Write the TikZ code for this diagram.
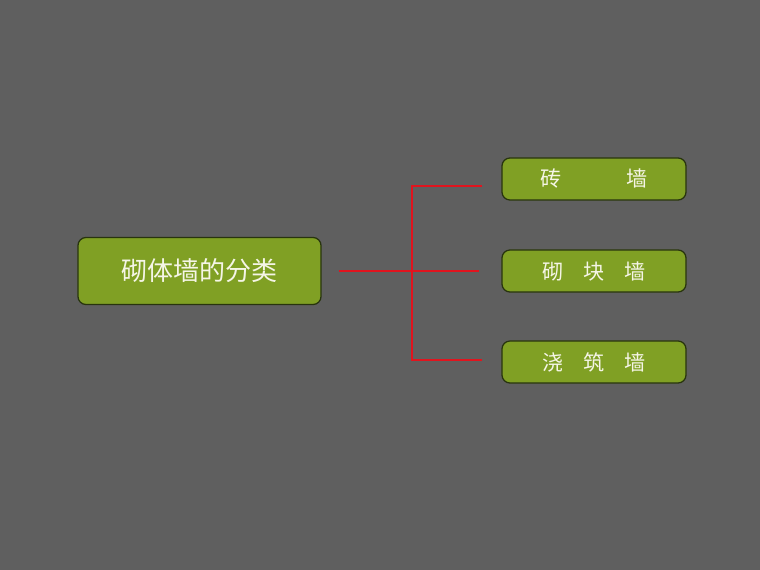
\documentclass[tikz,border=0pt]{standalone}
\usepackage{fontspec}
\newfontfamily\cjk{Noto Sans CJK SC}
\definecolor{bgGray}{RGB}{95,95,95}
\definecolor{leafGreen}{RGB}{128,160,36}
\definecolor{edgeGreen}{RGB}{40,52,14}
\definecolor{linkRed}{RGB}{225,20,30}
\definecolor{textCream}{RGB}{245,245,230}
\tikzset{
	box/.style={draw=edgeGreen, line width=0.9pt, fill=leafGreen, rounded corners=0.2cm,
		text=textCream, font=\cjk, inner sep=0pt},
	mainbox/.style={box, minimum width=6.075cm, minimum height=1.675cm, font=\cjk\fontsize{18.5}{20}\selectfont},
	subbox/.style={box, minimum width=4.6cm, minimum height=1.05cm, font=\cjk\fontsize{15}{17}\selectfont},
	link/.style={draw=linkRed, line width=1.1pt}
}
\begin{document}
\begin{tikzpicture}[x=0.025cm, y=-0.025cm]
	\fill[bgGray] (0,0) rectangle (760,570);
	\useasboundingbox (0,0) rectangle (760,570);
	% boxes
	\node[mainbox] (main) at (199.5,271) {砌体墙的分类};
	\node[subbox] (brick) at (594,179) {砖\hspace{1.6cm}墙};
	\node[subbox] (block) at (594,271) {砌\hspace{0.5cm}块\hspace{0.5cm}墙};
	\node[subbox] (pour) at (594,362) {浇\hspace{0.5cm}筑\hspace{0.5cm}墙};
	% connectors
	\coordinate (split) at (412,271);
	\draw[link] ([xshift=0.425cm]main.east) -- ([xshift=-0.55cm]block.west);
	\draw[link] ([xshift=-0.475cm,yshift=-0.175cm]brick.west) -| (split)
		|- ([xshift=-0.475cm,yshift=0.05cm]pour.west);
\end{tikzpicture}
\end{document}
